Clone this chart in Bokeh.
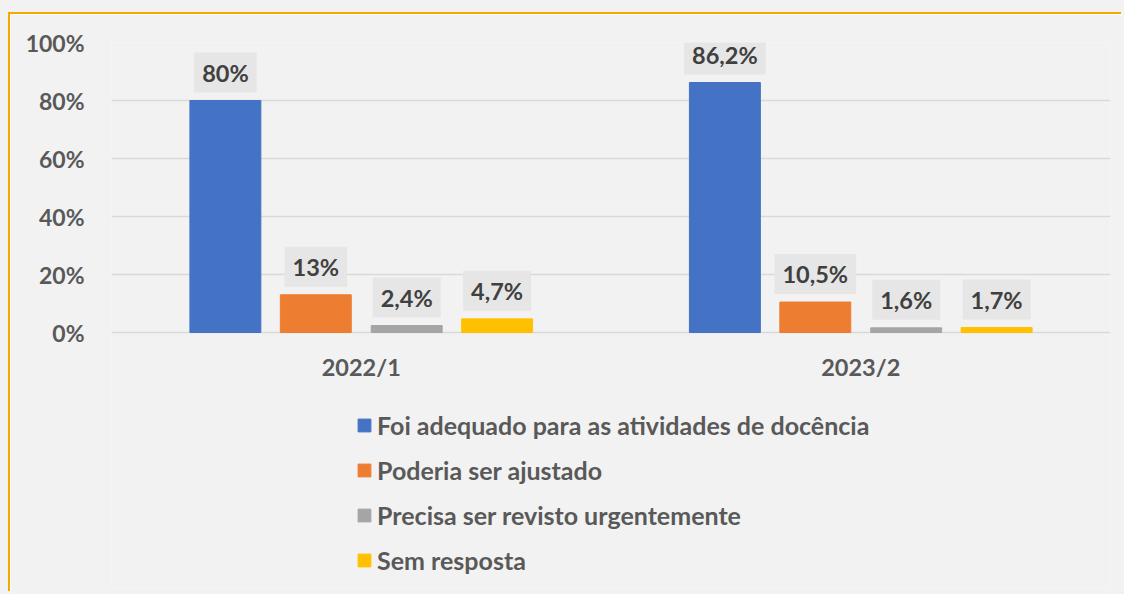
from bokeh.plotting import figure
from bokeh.models import ColumnDataSource, FactorRange, Range1d, Legend, LegendItem, PrintfTickFormatter, FixedTicker
from bokeh.transform import dodge
from bokeh.core.properties import value
from bokeh.embed import file_html
from bokeh.resources import INLINE

categories = ["2022/1", "2023/2"]
series_names = [
    "Foi adequado para as atividades de docência",
    "Poderia ser ajustado",
    "Precisa ser revisto urgentemente",
    "Sem resposta",
]
foi_adequado = [80, 86.2]
poderia_ajustar = [13, 10.5]
precisa_revisto = [2.4, 1.6]
sem_resposta = [4.7, 1.7]
y_ticks = [0, 20, 40, 60, 80, 100]

series_values = [foi_adequado, poderia_ajustar, precisa_revisto, sem_resposta]
colors = ["#4472C4", "#ED7D31", "#A5A5A5", "#FFC000"]
offsets = [-0.272, -0.091, 0.091, 0.272]

FONT = "Lato"
BORDER = "#F5A800"
BG = "#F2F2F2"

# frame extends below the zero line to hold the category labels and the legend
PX_PER_UNIT = 2.9
y_bottom = -(588 - 332) / PX_PER_UNIT

p = figure(
    x_range=FactorRange(factors=categories, range_padding=0),
    y_range=Range1d(y_bottom, 100),
    width=1113, height=579,
    output_backend="svg", toolbar_location=None,
    min_border_left=101, min_border_right=13, min_border_top=28, min_border_bottom=5,
    background_fill_color=BG, border_fill_color=BG,
    outline_line_color=None,
    styles={"margin-top": "14px", "margin-left": "10px",
            "box-shadow": "-2px -2px 0 0 " + BORDER + ", 0 0 0 14px " + BG},
)

def fmt(v):
    s = ("%g" % v).replace(".", ",")
    return s + "%"

items = []
for name, vals, col, off in zip(series_names, series_values, colors, offsets):
    src = ColumnDataSource(dict(x=categories, top=vals, label=[fmt(v) for v in vals]))
    r = p.vbar(x=dodge("x", off, range=p.x_range), top="top", width=0.142, source=src,
               fill_color=col, line_color=col)
    p.text(x=dodge("x", off, range=p.x_range), y="top", text="label", source=src,
           anchor="bottom_center", y_offset=-8,
           text_font=value(FONT), text_font_style="bold", text_font_size="23.5px",
           text_color="#404040",
           background_fill_color="#E6E6E6",
           padding=dict(left=8, right=8, top=6, bottom=6))
    items.append(LegendItem(label=name, renderers=[r]))

# category labels under the zero line
cat_src = ColumnDataSource(dict(x=categories, y=[0] * len(categories)))
p.text(x="x", y="y", text="x", source=cat_src, y_offset=34,
       text_align="center", text_baseline="middle",
       text_font=value(FONT), text_font_style="bold", text_font_size="23.5px",
       text_color="#595959")

legend = Legend(items=items, location=(245, 13), orientation="vertical",
                padding=0, margin=0, spacing=15, label_standoff=5,
                glyph_width=16, glyph_height=16, label_height=30,
                label_text_font=FONT, label_text_font_style="bold", label_text_font_size="25px",
                label_text_color="#595959",
                background_fill_alpha=0, border_line_color=None)
p.add_layout(legend, "center")

p.xaxis.visible = False
p.xgrid.grid_line_color = None
p.ygrid.grid_line_color = "#D9D9D9"
p.ygrid.grid_line_width = 1.5
p.ygrid.ticker = FixedTicker(ticks=y_ticks)

p.yaxis.ticker = FixedTicker(ticks=y_ticks)
p.yaxis.formatter = PrintfTickFormatter(format="%d%%")
p.yaxis.axis_line_color = None
p.yaxis.major_tick_line_color = None
p.yaxis.minor_tick_line_color = None
p.yaxis.major_label_text_font = FONT
p.yaxis.major_label_text_font_style = "bold"
p.yaxis.major_label_text_font_size = "23px"
p.yaxis.major_label_text_color = "#595959"
p.yaxis.major_label_standoff = 21

open("out.html", "w").write(file_html(p, INLINE))
